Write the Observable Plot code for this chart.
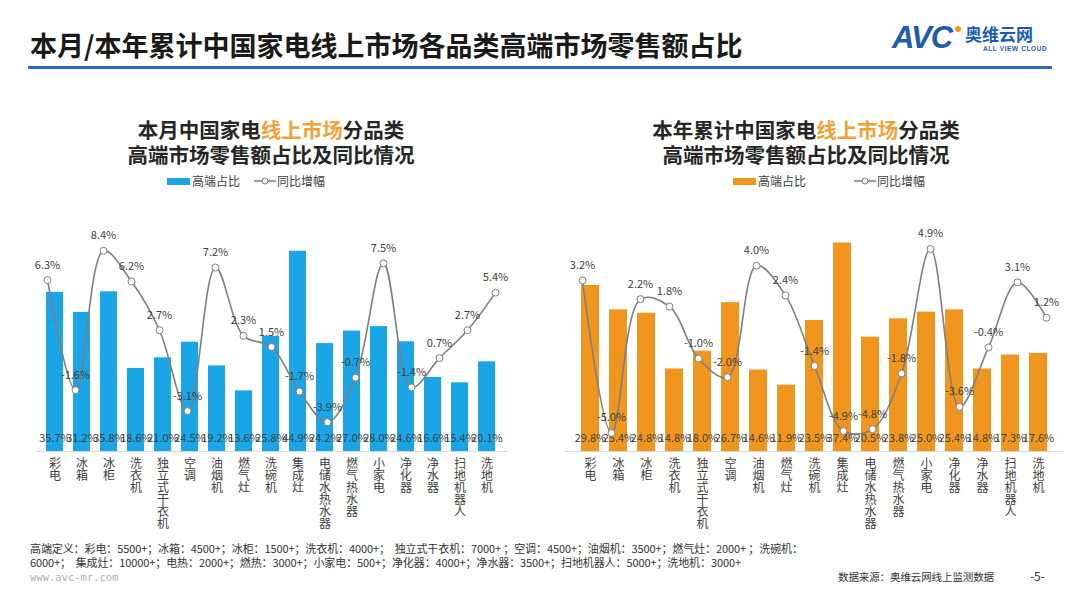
<!DOCTYPE html>
<html><head><meta charset="utf-8">
<script src="https://cdn.jsdelivr.net/npm/d3@7"></script>
<script src="https://cdn.jsdelivr.net/npm/@observablehq/plot@0.6"></script>
<style>
body{margin:0;background:#fff;font-family:"Noto Sans CJK SC","Noto Sans",sans-serif;}
#page{position:relative;width:1080px;height:607px;overflow:hidden;background:#fff;}
.abs{position:absolute;white-space:nowrap;}
.sub{font-size:20.5px;font-weight:bold;color:#262626;text-align:center;line-height:25px;width:400px;}
.sub span{color:#f0a236;}
.leg{font-size:12px;color:#404040;line-height:14px;}
.foot{font-size:11px;color:#333;line-height:14px;letter-spacing:-0.1px;}
svg{overflow:visible;}
</style></head><body><div id="page">
<div class="abs" style="left:30px;top:27px;font-size:27px;font-weight:bold;color:#1a1a1a;line-height:36px;">本月/本年累计中国家电线上市场各品类高端市场零售额占比</div>
<div class="abs" style="left:28px;top:66px;width:1024px;height:2.5px;background:#2c6db5;"></div>
<div class="abs" style="left:892px;top:20px;font-size:31px;font-weight:900;font-style:italic;color:#1d5bb0;line-height:36px;letter-spacing:-1px;font-family:'Liberation Sans',sans-serif;">AVC</div>
<div class="abs" style="left:955px;top:26px;width:6px;height:6px;border-radius:3px;background:#f39a1e;"></div>
<div class="abs" style="left:965px;top:24px;font-size:17px;font-weight:bold;color:#1d5bb0;line-height:20px;">奥维云网</div>
<div class="abs" style="left:983px;top:45px;font-size:6.5px;font-weight:bold;color:#1d5bb0;line-height:8px;letter-spacing:0.6px;font-family:'Liberation Sans',sans-serif;">ALL VIEW CLOUD</div>

<div class="abs sub" style="left:71px;top:117px;">本月中国家电<span>线上市场</span>分品类<br>高端市场零售额占比及同比情况</div>
<div class="abs sub" style="left:606px;top:117px;">本年累计中国家电<span>线上市场</span>分品类<br>高端市场零售额占比及同比情况</div>

<div id="legL"></div><div id="legR"></div>
<div id="chartL" class="abs" style="left:0;top:200px;width:540px;height:340px;"></div>
<div id="chartR" class="abs" style="left:540px;top:200px;width:540px;height:340px;"></div>

<div class="abs foot" style="left:30px;top:541px;">高端定义：彩电：5500+；冰箱：4500+；冰柜：1500+；洗衣机：4000+；&nbsp;&nbsp;独立式干衣机：7000+ ；空调：4500+；油烟机：3500+；燃气灶：2000+ ；洗碗机：</div>
<div class="abs foot" style="left:30px;top:555px;">6000+；&nbsp;&nbsp;集成灶：10000+；电热：2000+；燃热：3000+；小家电：500+；净化器：4000+；净水器：3500+；扫地机器人：5000+；洗地机：3000+</div>
<div class="abs" style="left:30px;top:570px;font-size:10.5px;color:#b0b0b0;line-height:14px;font-family:'DejaVu Sans Mono',monospace;">www.avc-mr.com</div>
<div class="abs foot" style="left:838px;top:570px;font-size:10.5px;">数据来源：奥维云网线上监测数据</div>
<div class="abs foot" style="left:1030px;top:569px;font-size:12px;">-5-</div>
</div>
<script>
const categories = ["彩电","冰箱","冰柜","洗衣机","独立式干衣机","空调","油烟机","燃气灶","洗碗机","集成灶","电储水热水器","燃气热水器","小家电","净化器","净水器","扫地机器人","洗地机"];
const monthShare = [35.7,31.2,35.8,18.6,21.0,24.5,19.2,13.6,25.8,44.9,24.2,27.0,28.0,24.6,16.6,15.4,20.1];
const monthYoY = [6.3,-1.6,8.4,6.2,2.7,-3.1,7.2,2.3,1.5,-1.7,-3.9,-0.7,7.5,-1.4,0.7,2.7,5.4];
const ytdShare = [29.8,25.4,24.8,14.8,18.0,26.7,14.6,11.9,23.5,37.4,20.5,23.8,25.0,25.4,14.8,17.3,17.6];
const ytdYoY = [3.2,-5.0,2.2,1.8,-1.0,-2.0,4.0,2.4,-1.4,-4.9,-4.8,-1.8,4.9,-3.6,-0.4,3.1,1.2];
const legendLabels = ["高端占比","同比增幅"];

const FONT = '"Noto Sans CJK SC","Noto Sans",sans-serif';

function panel(el, share, yoy, color, shareMax, yoyDomain, mLeft, mRight) {
  const rows = categories.map((c,i)=>({c, share: share[i], yoy: yoy[i]}));
  const common = {width:540, height:340, marginLeft:mLeft, marginRight:mRight, marginTop:28, marginBottom:89,
    style:{fontFamily:FONT, background:"transparent", color:"#404040", overflow:"visible"}};
  const bars = Plot.plot({...common,
    x:{domain:categories, padding:0.36, label:null},
    y:{domain:[0,shareMax], axis:null},
    marks:[
      Plot.ruleY([0],{stroke:"#d9d9d9"}),
      Plot.barY(rows,{x:"c",y:"share",fill:color}),
      Plot.text(rows,{x:"c",y:0,dy:-13,text:d=>d.share.toFixed(1)+"%",fontSize:11,fill:"#404040"}),
      Plot.axisX({label:null,tickSize:0,tickPadding:8,fontSize:12,lineHeight:1.0,tickFormat:d=>[...d].join("\n")})
    ]});
  const line = Plot.plot({...common,
    x:{domain:categories, padding:0.36, axis:null},
    y:{domain:yoyDomain, axis:null},
    marks:[
      Plot.line(rows,{x:"c",y:"yoy",curve:"catmull-rom",stroke:"#7f7f7f",strokeWidth:1.6}),
      Plot.dot(rows,{x:"c",y:"yoy",r:3.5,fill:"white",stroke:"#7f7f7f",strokeWidth:1}),
      Plot.text(rows,{x:"c",y:"yoy",dy:-15,text:d=>d.yoy.toFixed(1)+"%",fontSize:11,fill:"#404040"})
    ]});
  for (const s of [bars,line]) { s.style.position="absolute"; s.style.left="0"; s.style.top="0"; el.appendChild(s); }
}
panel(document.getElementById("chartL"), monthShare, monthYoY, "#1aa5e6", 50, [-6,10], 35, 33);
panel(document.getElementById("chartR"), ytdShare, ytdYoY, "#f0961e", 40, [-6,6], 24, 16);

function legend(id, x1, x2, color) {
  const el = document.getElementById(id);
  el.innerHTML = `<div class="abs" style="left:${x1}px;top:178px;width:23px;height:7px;background:${color};"></div>
  <div class="abs leg" style="left:${x1+25}px;top:174px;">${legendLabels[0]}</div>
  <svg class="abs" style="left:${x2}px;top:176px;" width="22" height="10"><line x1="0" y1="5" x2="22" y2="5" stroke="#7f7f7f" stroke-width="1.5"/><circle cx="11" cy="5" r="3" fill="white" stroke="#7f7f7f"/></svg>
  <div class="abs leg" style="left:${x2+23}px;top:174px;">${legendLabels[1]}</div>`;
}
legend("legL", 167, 254, "#1aa5e6");
legend("legR", 733, 854, "#f0961e");
</script>
</body></html>
